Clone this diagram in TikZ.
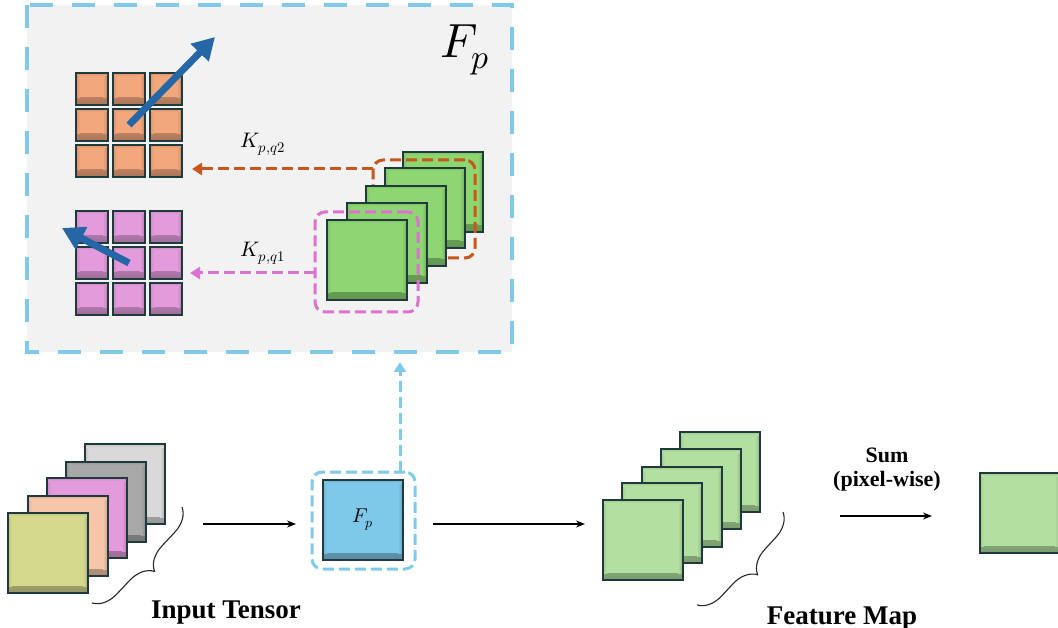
\documentclass[tikz,border=0pt]{standalone}
\usepackage{fontspec}
\usepackage{unicode-math}
\setmainfont{Liberation Serif}
\setmathfont{Latin Modern Math}
\usetikzlibrary{arrows.meta,decorations.pathreplacing,calc}
\definecolor{panelgray}{HTML}{F2F2F2}
\definecolor{skyb}{HTML}{7FCAEA}
\definecolor{orcell}{HTML}{F2A77C}
\definecolor{pkcell}{HTML}{E39BDC}
\definecolor{greenP}{HTML}{8DD672}
\definecolor{greenL}{HTML}{B2E0A0}
\definecolor{olive}{HTML}{D5D98E}
\definecolor{peach}{HTML}{F6C6A8}
\definecolor{midgray}{HTML}{A8A8A8}
\definecolor{lgray}{HTML}{D9D9D9}
\definecolor{blueFp}{HTML}{7EC8EA}
\definecolor{bord}{HTML}{1F3A3D}
\definecolor{orD}{HTML}{C9561A}
\definecolor{pkD}{HTML}{DD72D2}
\definecolor{barrow}{HTML}{2566A6}
\tikzset{
  shadowed/.style={path picture={
    \shade[top color=#1, bottom color=#1!70!black] ([yshift=7pt]path picture bounding box.south west) rectangle (path picture bounding box.south east);
    \shade[left color=#1, right color=#1!80!black] ([xshift=-5pt,yshift=7pt]path picture bounding box.south east) rectangle ([yshift=-2pt]path picture bounding box.north east);
    \shade[right color=#1, left color=#1!90!black] ([yshift=7pt]path picture bounding box.south west) rectangle ([xshift=4pt,yshift=-2pt]path picture bounding box.north west);
    \shade[bottom color=#1, top color=#1!90!black] (path picture bounding box.north west) rectangle ([yshift=-3pt]path picture bounding box.north east);
  }},
  sq/.style={draw=bord, line width=1.4pt, minimum size=80pt, inner sep=0pt, outer sep=0pt, anchor=north west, fill=#1, shadowed=#1},
  cell/.style={draw=bord, line width=1.4pt, minimum size=32pt, inner sep=0pt, outer sep=0pt, anchor=north west, fill=#1, shadowed=#1},
  dbox/.style={draw=#1, line width=3pt, dash pattern=on 11pt off 5pt, rounded corners=10pt, anchor=north west, inner sep=0pt, outer sep=0pt},
  darrow/.style={draw=#1, line width=3pt, dash pattern=on 11pt off 5pt, -{Triangle[length=10pt,width=12pt]}},
  barr/.style={draw=barrow, line width=7pt, -{Triangle[length=22pt,width=24pt]}},
  flow/.style={draw=black, line width=1.2pt, -{Stealth[length=9pt,width=7pt]}},
  bracest/.style={draw=black!85, line width=1.1pt, decorate, decoration={brace, amplitude=24pt}},
  lbl/.style={font=\bfseries\fontsize{27}{30}\selectfont, anchor=base, inner sep=0pt},
}
\begin{document}
\begin{tikzpicture}[x=1pt,y=-1pt]
\useasboundingbox (0,0) rectangle (1058,628);
% panel
\node[fill=panelgray, minimum width=485pt, minimum height=347pt, anchor=north west, inner sep=0pt, outer sep=0pt] (panel) at (27,5) {};
\draw[skyb, line width=4pt, dash pattern=on 23pt off 19pt] (panel.north west) rectangle (panel.south east);
\node[font=\fontsize{48}{52}\selectfont] (fpbig) at (465,50) {$F_p$};
% grids
\foreach \i in {1,2,3}{\foreach \j in {1,2,3}{
  \node[cell=orcell] (o\j\i) at ({76+37*(\i-1)},{73+36*(\j-1)}) {};
  \node[cell=pkcell] (p\j\i) at ({76+37*(\i-1)},{211+36*(\j-1)}) {};
}}
\coordinate (otip) at (215,37);
\coordinate (ptip) at (62,228);
\draw[barr] (o22.center) -- (otip);
\draw[barr] (p22.center) -- (ptip);
% green stack in panel
\node[sq=greenP] (g1) at (403,152) {};
\node[sq=greenP] (g2) at (385,168) {};
\node[dbox=orD, minimum width=102pt, minimum height=98pt] (obox) at (373,160) {};
\node[sq=greenP] (g3) at (366,186) {};
\node[sq=greenP] (g4) at (347,203) {};
\node[sq=greenP] (g5) at (327,220) {};
\node[dbox=pkD, minimum width=103pt, minimum height=100pt] (pbox) at (315,212) {};
\coordinate (k2tip) at (192,169);
\coordinate (k1tip) at (190,273);
\draw[darrow=orD] (obox.west |- k2tip) -- (k2tip);
\draw[darrow=pkD] (pbox.west |- k1tip) -- (k1tip);
\node[font=\fontsize{21}{24}\selectfont] (k2) at (263,144) {$K_{p,q2}$};
\node[font=\fontsize{21}{24}\selectfont] (k1) at (263,253) {$K_{p,q1}$};
% input tensor
\node[sq=lgray] (i5) at (85,444) {};
\node[sq=midgray] (i4) at (66,462) {};
\node[sq=pkcell] (i3) at (47,478) {};
\node[sq=peach] (i2) at (28,496) {};
\node[sq=olive] (i1) at (8,513) {};
\coordinate (b1a) at (182,507);
\coordinate (b1b) at (92,603);
\draw[bracest] (b1a) -- (b1b);
\node[lbl] (inlbl) at (226,618) {Input Tensor};
% Fp square
\node[sq=blueFp] (fp) at (323,480) {};
\node[font=\fontsize{20}{22}\selectfont] (fplbl) at (fp.center) {$F_p$};
\node[dbox=skyb, minimum width=103pt, minimum height=97pt] (fbox) at (312,472) {};
\coordinate (vt) at (400,362);
\draw[darrow=skyb] (vt |- fbox.north) -- (vt);
% arrows
\draw[flow] (i5.east |- 0,524) ++(38,0) coordinate (a1s) -- (296,524) coordinate (a1e);
\draw[flow] (fbox.east |- 0,524) ++(18,0) -- (585,524);
% feature map
\node[sq=greenL] (f5) at (680,432) {};
\node[sq=greenL] (f4) at (661,449) {};
\node[sq=greenL] (f3) at (642,467) {};
\node[sq=greenL] (f2) at (622,483) {};
\node[sq=greenL] (f1) at (603,500) {};
\coordinate (b2a) at (783,512);
\coordinate (b2b) at (697,605);
\draw[bracest] (b2a) -- (b2b);
\node[lbl] (fmlbl) at (842,624) {Feature Map};
% sum
\node[font=\bfseries\fontsize{22}{24}\selectfont, align=center] (sum) at (887,470) {Sum\\(pixel-wise)};
\node[sq=greenL] (out) at (980,473) {};
\draw[flow] (840,516) -- (932,516);
\end{tikzpicture}
\end{document}
